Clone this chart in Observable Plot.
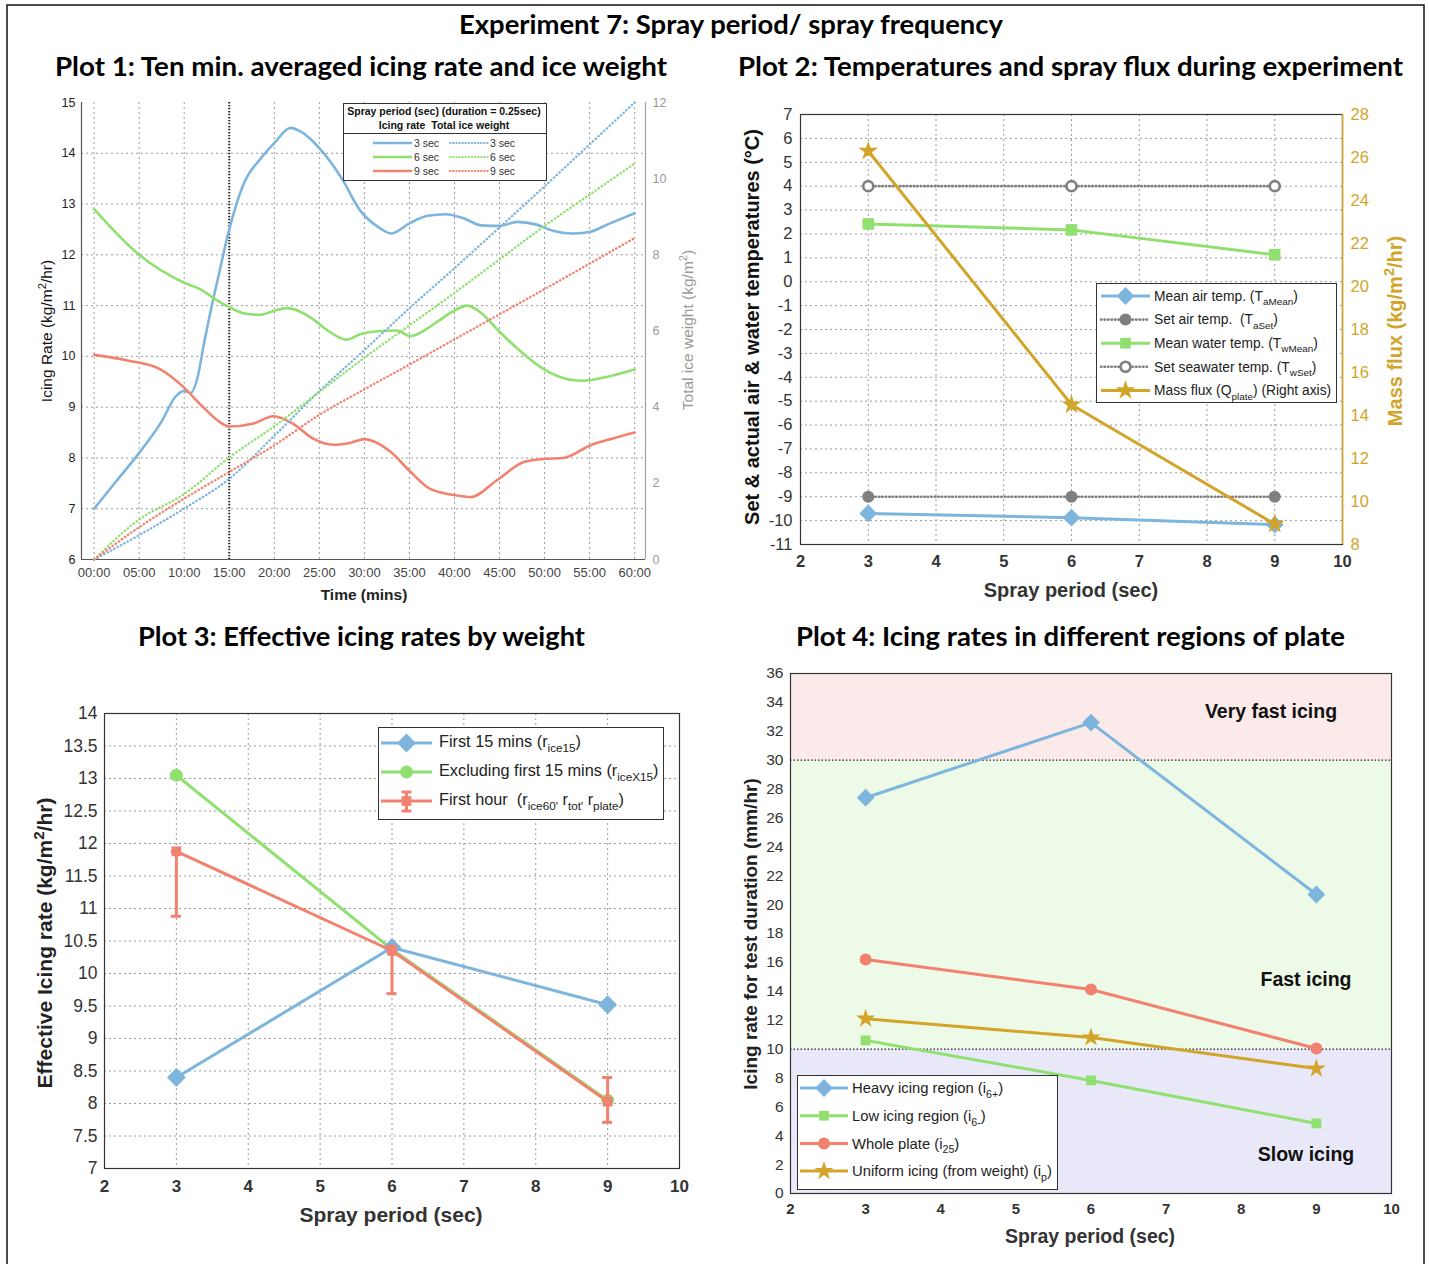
<!DOCTYPE html>
<html>
<head>
<meta charset="utf-8">
<script src="https://cdn.jsdelivr.net/npm/d3@7"></script>
<script src="https://cdn.jsdelivr.net/npm/@observablehq/plot@0.6"></script>
<style>
html,body{margin:0;padding:0;background:#fff;}
#root{position:relative;width:1429px;height:1264px;overflow:hidden;background:#fff;}
#root svg{position:absolute;left:0;top:0;}
</style>
</head>
<body>
<div id="root"></div>
<script>
// ================= DATA =================
// Plot 1: ten-minute averaged icing rate (left axis) and total ice weight (right axis)
const p1XTicks = [0,5,10,15,20,25,30,35,40,45,50,55,60];
const p1YTicks = [6,7,8,9,10,11,12,13,14,15];
const p1RTicks = [0,2,4,6,8,10,12];
const p1Marker = [15];
const rate3Time  = [0,2.5,5,7.5,9,10,10.7,11.5,12.2,13,13.7,15,16.6,18.5,20,21.8,23,25,27.5,29.5,31.5,33,35,37,39,41,43,45,47,49,51,53,55,57,60];
const rate3Value = [7.0,7.55,8.1,8.72,9.2,9.32,9.28,9.6,10.26,10.95,11.5,12.5,13.4,13.9,14.2,14.5,14.42,14.1,13.5,12.88,12.55,12.42,12.62,12.77,12.8,12.72,12.58,12.57,12.65,12.6,12.47,12.42,12.45,12.6,12.82];
const rate6Time  = [0,5,10,11.8,13.5,15,16.6,18.4,20,21.4,23,24,26,28,29.6,31.8,33.6,35.1,37,38.4,39.5,41.4,43,44.7,47,49.9,52.9,54.3,57,60];
const rate6Value = [12.9,12.0,11.45,11.32,11.12,10.97,10.85,10.82,10.9,10.95,10.87,10.77,10.5,10.33,10.44,10.5,10.51,10.4,10.55,10.72,10.85,11.0,10.85,10.54,10.15,9.75,9.54,9.52,9.6,9.74];
const rate9Time  = [0,3.7,7.3,9.9,12.1,14,15,17.7,19.9,22.1,24.3,26.6,28.5,30,31,32.9,35.1,37.3,40.3,41.8,44.7,47.7,49.9,52.1,55.1,57.5,60];
const rate9Value = [10.03,9.92,9.75,9.4,9.0,8.7,8.62,8.68,8.82,8.67,8.38,8.26,8.3,8.37,8.33,8.12,7.73,7.39,7.26,7.23,7.56,7.92,7.98,8.0,8.25,8.38,8.5];
const weightTime = [0,5,10,15,20,25,30,35,40,45,50,55,60];
const weight3 = [0,0.64,1.34,2.12,3.25,4.42,5.5,6.6,7.65,8.72,9.8,10.9,12.0];
const weight6 = [0,1.05,1.72,2.68,3.5,4.4,5.3,6.15,7.0,7.88,8.76,9.58,10.4];
const weight9 = [0,0.85,1.6,2.3,3.0,3.8,4.47,5.12,5.78,6.44,7.1,7.77,8.44];
const p1LegendLabels = ["3 sec","6 sec","9 sec"];

// Plot 2: temperatures and spray flux
const p2XTicks = [2,3,4,5,6,7,8,9,10];
const p2YTicks = [-11,-10,-9,-8,-7,-6,-5,-4,-3,-2,-1,0,1,2,3,4,5,6,7];
const p2RTicks = [8,10,12,14,16,18,20,22,24,26,28];
const p2Period = [3,6,9];
const p2AirMean = [-9.7,-9.88,-10.17];
const p2AirSet = [-9,-9,-9];
const p2WaterMean = [2.42,2.17,1.13];
const p2WaterSet = [4,4,4];
const p2MassFlux = [26.3,14.5,8.95];
const p2LegendLabels = ["Mean air temp. (T_{aMean})","Set air temp.  (T_{aSet})","Mean water temp. (T_{wMean})","Set seawater temp. (T_{wSet})","Mass flux (Q_{plate}) (Right axis)"];

// Plot 3: effective icing rates by weight
const p3XTicks = [2,3,4,5,6,7,8,9,10];
const p3YTicks = [7,7.5,8,8.5,9,9.5,10,10.5,11,11.5,12,12.5,13,13.5,14];
const p3Period = [3,6,9];
const p3First15 = [8.4,10.4,9.52];
const p3ExclFirst15 = [13.05,10.37,8.05];
const p3FirstHour = [11.88,10.35,8.03];
const p3ErrLow = [10.88,9.69,7.71];
const p3ErrHigh = [11.88,10.42,8.4];
const p3LegendLabels = ["First 15 mins (r_{ice15})","Excluding first 15 mins (r_{iceX15})","First hour  (r_{ice60'} r_{tot'} r_{plate})"];

// Plot 4: icing rates in different regions of plate
const p4XTicks = [2,3,4,5,6,7,8,9,10];
const p4YTicks = [0,2,4,6,8,10,12,14,16,18,20,22,24,26,28,30,32,34,36];
const p4Period = [3,6,9];
const p4Heavy = [27.4,32.6,20.7];
const p4Low = [10.6,7.83,4.85];
const p4Whole = [16.2,14.12,10.04];
const p4Uniform = [12.1,10.8,8.65];
const p4BandLow = [0,10,30];
const p4BandHigh = [10,30,36];
const p4Thresholds = [10,30];
const p4BandLabels = ["Slow icing","Fast icing","Very fast icing"];
const p4LegendLabels = ["Heavy icing region (i_{6+})","Low icing region (i_{6-})","Whole plate (i_{25})","Uniform icing (from weight) (i_{p})"];

// ================= STYLE =================
const W = 1429, H = 1264;
const BLUE = "#7db5dd", GREEN = "#90e070", RED = "#f2826f", GOLD = "#d2a42a", GREY = "#7f7f7f";
const FONT = "'Liberation Sans', Arial, Helvetica, sans-serif";
const root = document.getElementById("root");
function frame(x0,y0,x1,y1){return {width:W,height:H,marginLeft:x0,marginTop:y0,marginRight:W-x1,marginBottom:H-y1,
  style:{background:"transparent",fontFamily:FONT,overflow:"visible",maxWidth:"none"}};}
const gridStyle = {stroke:"#9a9a9a", strokeOpacity:1, strokeWidth:1, strokeDasharray:"2,3"};
const num = d=>String(d);
function add(p){root.appendChild(p);}
function rows(xs, ...series){return xs.map((x,i)=>{const o={x}; series.forEach((s,k)=>o["s"+k]=s[i]); return o;});}

// ================= PLOT 1 =================
const p1XDomain = [-1.4, 61.2], p1YDomain = [6,15], p1RDomain = [0,12];
const r3 = rows(rate3Time, rate3Value), r6 = rows(rate6Time, rate6Value), r9 = rows(rate9Time, rate9Value);
const w = rows(weightTime, weight3, weight6, weight9);
add(Plot.plot({
  ...frame(81,102,645,559),
  x:{domain:p1XDomain, axis:null}, y:{domain:p1YDomain, axis:null},
  marks:[
    Plot.gridX(p1XTicks, gridStyle),
    Plot.gridY(p1YTicks.filter(v=>v>p1YDomain[0] && v<p1YDomain[1]), gridStyle),
    Plot.ruleX(p1Marker, {stroke:"#222", strokeWidth:2, strokeDasharray:"1.2,1.8"}),
    Plot.ruleX([p1XDomain[0]], {stroke:"#555", strokeWidth:1.2}),
    Plot.ruleY([p1YDomain[0]], {stroke:"#555", strokeWidth:1.2}),
    Plot.axisX(p1XTicks, {tickSize:0, tickPadding:8, fontSize:13, color:"#444", label:null,
      tickFormat:d=>String(d).padStart(2,"0")+":00"}),
    Plot.axisY(p1YTicks, {tickSize:0, tickPadding:6, fontSize:12.5, color:"#222", label:null, tickFormat:num}),
    Plot.line(r3, {x:"x", y:"s0", stroke:BLUE, strokeWidth:2.6, curve:"monotone-x"}),
    Plot.line(r6, {x:"x", y:"s0", stroke:GREEN, strokeWidth:2.6, curve:"monotone-x"}),
    Plot.line(r9, {x:"x", y:"s0", stroke:RED, strokeWidth:2.6, curve:"monotone-x"})
  ]
}));
add(Plot.plot({
  ...frame(81,102,645,559),
  x:{domain:p1XDomain, axis:null}, y:{domain:p1RDomain, axis:null},
  marks:[
    Plot.ruleX([p1XDomain[1]], {stroke:"#a0a0a0", strokeWidth:1.2}),
    Plot.axisY(p1RTicks, {anchor:"right", tickSize:0, tickPadding:7, fontSize:12.5, color:"#999", label:null, tickFormat:num}),
    Plot.line(w, {x:"x", y:"s0", stroke:BLUE, strokeWidth:2.3, strokeDasharray:"0.5,3.3", strokeLinecap:"round", curve:"monotone-x"}),
    Plot.line(w, {x:"x", y:"s1", stroke:GREEN, strokeWidth:2.3, strokeDasharray:"0.5,3.3", strokeLinecap:"round", curve:"monotone-x"}),
    Plot.line(w, {x:"x", y:"s2", stroke:RED, strokeWidth:2.3, strokeDasharray:"0.5,3.3", strokeLinecap:"round", curve:"monotone-x"})
  ]
}));

// ================= PLOT 2 =================
const p2XDomain = [2,10], p2YDomain = [-11,7], p2RDomain = [8,28];
const p2 = rows(p2Period, p2AirMean, p2AirSet, p2WaterMean, p2WaterSet, p2MassFlux);
add(Plot.plot({
  ...frame(800,114,1342,544),
  x:{domain:p2XDomain, axis:null}, y:{domain:p2YDomain, axis:null},
  marks:[
    Plot.gridX(p2XTicks, gridStyle),
    Plot.gridY(p2YTicks, gridStyle),
    Plot.frame({stroke:"#333", strokeWidth:1.2}),
    Plot.axisX(p2XTicks, {tickSize:0, tickPadding:11, fontSize:16.5, fontWeight:"bold", color:"#333", label:null}),
    Plot.axisY(p2YTicks, {tickSize:0, tickPadding:8, fontSize:16.5, color:"#333", label:null, tickFormat:num}),
    Plot.line(p2, {x:"x", y:"s0", stroke:BLUE, strokeWidth:3}),
    Plot.dot(p2, {x:"x", y:"s0", symbol:"diamond2", r:8, fill:BLUE}),
    Plot.line(p2, {x:"x", y:"s1", stroke:GREY, strokeWidth:2.6, strokeDasharray:"0.5,3", strokeLinecap:"round"}),
    Plot.dot(p2, {x:"x", y:"s1", symbol:"circle", r:6, fill:GREY}),
    Plot.line(p2, {x:"x", y:"s2", stroke:GREEN, strokeWidth:3}),
    Plot.dot(p2, {x:"x", y:"s2", symbol:"square", r:6.5, fill:GREEN}),
    Plot.line(p2, {x:"x", y:"s3", stroke:GREY, strokeWidth:2.6, strokeDasharray:"0.5,3", strokeLinecap:"round"}),
    Plot.dot(p2, {x:"x", y:"s3", symbol:"circle", r:5, fill:"white", stroke:GREY, strokeWidth:2.6})
  ]
}));
add(Plot.plot({
  ...frame(800,114,1342,544),
  x:{domain:p2XDomain, axis:null}, y:{domain:p2RDomain, axis:null},
  marks:[
    Plot.ruleX([p2XDomain[1]], {stroke:GOLD, strokeWidth:1.5}),
    Plot.axisY(p2RTicks, {anchor:"right", tickSize:0, tickPadding:8, fontSize:16.5, color:GOLD, label:null, tickFormat:num}),
    Plot.line(p2, {x:"x", y:"s4", stroke:GOLD, strokeWidth:3}),
    Plot.dot(p2, {x:"x", y:"s4", symbol:"star", r:6.2, fill:GOLD})
  ]
}));

// ================= PLOT 3 =================
const p3XDomain = [2,10], p3YDomain = [7,14];
const p3 = rows(p3Period, p3First15, p3ExclFirst15, p3FirstHour, p3ErrLow, p3ErrHigh);
const capHalf = 0.07;
add(Plot.plot({
  ...frame(104,713,679,1168),
  x:{domain:p3XDomain, axis:null}, y:{domain:p3YDomain, axis:null},
  marks:[
    Plot.gridX(p3XTicks, gridStyle),
    Plot.gridY(p3YTicks, gridStyle),
    Plot.frame({stroke:"#333", strokeWidth:1.2}),
    Plot.axisX(p3XTicks, {tickSize:0, tickPadding:11, fontSize:17, fontWeight:"bold", color:"#333", label:null}),
    Plot.axisY(p3YTicks, {tickSize:0, tickPadding:7, fontSize:17.5, color:"#333", label:null, tickFormat:num}),
    Plot.line(p3, {x:"x", y:"s1", stroke:GREEN, strokeWidth:3}),
    Plot.dot(p3, {x:"x", y:"s1", symbol:"circle", r:6.5, fill:GREEN}),
    Plot.line(p3, {x:"x", y:"s0", stroke:BLUE, strokeWidth:3}),
    Plot.dot(p3, {x:"x", y:"s0", symbol:"diamond2", r:8.5, fill:BLUE}),
    Plot.line(p3, {x:"x", y:"s2", stroke:RED, strokeWidth:3}),
    Plot.ruleX(p3, {x:"x", y1:"s3", y2:"s4", stroke:RED, strokeWidth:3}),
    Plot.ruleY(p3, {y:"s3", x1:d=>d.x-capHalf, x2:d=>d.x+capHalf, stroke:RED, strokeWidth:3}),
    Plot.ruleY(p3, {y:"s4", x1:d=>d.x-capHalf, x2:d=>d.x+capHalf, stroke:RED, strokeWidth:3}),
    Plot.dot(p3, {x:"x", y:"s2", symbol:"square", r:5.5, fill:RED})
  ]
}));

// ================= PLOT 4 =================
const p4XDomain = [2,10], p4YDomain = [0,36];
const bandColors = ["#e8e8f8","#ecfae7","#fceaea"];
const bands = p4BandLow.map((lo,i)=>({lo, hi:p4BandHigh[i], c:bandColors[i]}));
const p4 = rows(p4Period, p4Heavy, p4Low, p4Whole, p4Uniform);
add(Plot.plot({
  ...frame(790,673,1391,1193),
  x:{domain:p4XDomain, axis:null}, y:{domain:p4YDomain, axis:null},
  marks:[
    bands.map(b=>Plot.rect([b], {x1:()=>p4XDomain[0], x2:()=>p4XDomain[1], y1:"lo", y2:"hi", fill:b.c})),
    Plot.ruleY(p4Thresholds, {stroke:"#222", strokeWidth:1.3, strokeDasharray:"1.5,2"}),
    Plot.frame({stroke:"#333", strokeWidth:1.2}),
    Plot.axisX(p4XTicks, {tickSize:0, tickPadding:10, fontSize:15, fontWeight:"bold", color:"#333", label:null}),
    Plot.axisY(p4YTicks, {tickSize:0, tickPadding:7, fontSize:15.5, color:"#333", label:null, tickFormat:num}),
    Plot.line(p4, {x:"x", y:"s0", stroke:BLUE, strokeWidth:3}),
    Plot.dot(p4, {x:"x", y:"s0", symbol:"diamond2", r:8, fill:BLUE}),
    Plot.line(p4, {x:"x", y:"s1", stroke:GREEN, strokeWidth:3}),
    Plot.dot(p4, {x:"x", y:"s1", symbol:"square", r:5.5, fill:GREEN}),
    Plot.line(p4, {x:"x", y:"s2", stroke:RED, strokeWidth:3}),
    Plot.dot(p4, {x:"x", y:"s2", symbol:"circle", r:6, fill:RED}),
    Plot.line(p4, {x:"x", y:"s3", stroke:GOLD, strokeWidth:3}),
    Plot.dot(p4, {x:"x", y:"s3", symbol:"star", r:6, fill:GOLD})
  ]
}));

// ================= ANNOTATIONS =================
const ann = d3.select(root).append("svg").attr("width",W).attr("height",H)
  .style("font-family",FONT).style("overflow","visible");
ann.append("rect").attr("x",7).attr("y",5).attr("width",1417).attr("height",1275)
  .attr("fill","none").attr("stroke","#111").attr("stroke-width",1.5);

function rich(sel, str, size){
  sel.style("white-space","pre");
  const parts = str.split(/(_\{[^}]*\}|\^\{[^}]*\})/).filter(s=>s.length);
  let shift = 0;
  for (const p of parts){
    let t, dy, fs;
    if (p.startsWith("_{")) { t=p.slice(2,-1); dy=size*0.32; fs=size*0.72; }
    else if (p.startsWith("^{")) { t=p.slice(2,-1); dy=-size*0.42; fs=size*0.72; }
    else { t=p; dy=0; fs=size; }
    const ts = sel.append("tspan").text(t).attr("font-size",fs);
    const d = dy-shift;
    if (d) ts.attr("dy",d);
    shift = dy;
  }
  return sel;
}
function label(x,y,str,{size=14,weight="normal",fill="#222",rotate=false,anchor="middle"}={}){
  const t = ann.append("text").attr("text-anchor",anchor).attr("font-weight",weight).attr("fill",fill)
    .attr("font-size",size).attr("dy","0.35em");
  if (rotate) t.attr("transform",`translate(${x},${y}) rotate(-90)`);
  else t.attr("x",x).attr("y",y);
  return rich(t,str,size);
}
function title(x,y,str,width){
  ann.append("text").attr("x",x).attr("y",y).attr("text-anchor","middle")
    .attr("font-family","Lato, 'Open Sans', sans-serif").attr("font-weight",700).attr("font-size",26)
    .attr("textLength",width).attr("lengthAdjust","spacingAndGlyphs").attr("fill","#000").text(str);
}
title(731,34,"Experiment 7: Spray period/ spray frequency",544);
title(361,76,"Plot 1: Ten min. averaged icing rate and ice weight",612);
title(1070.5,76,"Plot 2: Temperatures and spray flux during experiment",665);
title(361.5,646,"Plot 3: Effective icing rates by weight",447);
title(1070.5,646,"Plot 4: Icing rates in different regions of plate",549);

// axis labels
label(364,595,"Time (mins)",{size:15.5,weight:"bold",fill:"#222"});
label(47,331,"Icing Rate (kg/m^{2}/hr)",{size:15.5,fill:"#111",rotate:true});
label(688,330,"Total ice weight (kg/m^{2})",{size:15.5,fill:"#999",rotate:true});
label(1071,590,"Spray period (sec)",{size:20,weight:"bold",fill:"#333"});
label(752,327,"Set & actual air & water temperatures (°C)",{size:20,weight:"bold",fill:"#111",rotate:true});
label(1395,331,"Mass flux (kg/m^{2}/hr)",{size:20,weight:"bold",fill:GOLD,rotate:true});
label(391,1215,"Spray period (sec)",{size:21,weight:"bold",fill:"#333"});
label(45,943,"Effective Icing rate (kg/m^{2}/hr)",{size:21,weight:"bold",fill:"#222",rotate:true});
label(1090,1236,"Spray period (sec)",{size:19.5,weight:"bold",fill:"#333"});
label(750,934,"Icing rate for test duration (mm/hr)",{size:19,weight:"bold",fill:"#222",rotate:true});

// band labels (Plot 4)
label(1306,1154,p4BandLabels[0],{size:19.5,weight:"bold",fill:"#111"});
label(1306,979,p4BandLabels[1],{size:19.5,weight:"bold",fill:"#111"});
label(1271,711,p4BandLabels[2],{size:19.5,weight:"bold",fill:"#111"});

// legend helpers
function box(x,y,w,h){ann.append("rect").attr("x",x+0.5).attr("y",y+0.5).attr("width",w).attr("height",h)
  .attr("fill","#fff").attr("stroke","#333").attr("stroke-width",1);}
function swatch(x1,x2,y,{color,width=3,dash=null,symbol=null,r=5,fill=null,stroke=null,sw=0}){
  const l = ann.append("line").attr("x1",x1).attr("x2",x2).attr("y1",y).attr("y2",y)
    .attr("stroke",color).attr("stroke-width",width);
  if (dash) l.attr("stroke-dasharray",dash).attr("stroke-linecap","round");
  if (symbol) ann.append("path").attr("d",d3.symbol(symbol,Math.PI*r*r)())
    .attr("transform",`translate(${(x1+x2)/2},${y})`).attr("fill",fill ?? color)
    .attr("stroke",stroke ?? "none").attr("stroke-width",sw);
}

// Plot 1 legend
box(343,103,203,77);
label(444,111,"Spray period (sec) (duration = 0.25sec)",{size:10.5,weight:"bold",fill:"#111"});
label(444,125,"Icing rate  Total ice weight",{size:10.5,weight:"bold",fill:"#111"});
ann.append("line").attr("x1",343).attr("x2",546).attr("y1",133.5).attr("y2",133.5).attr("stroke","#333");
[BLUE,GREEN,RED].forEach((c,i)=>{
  const y = 143+i*14;
  swatch(373,412,y,{color:c,width:2.5});
  label(414,y,p1LegendLabels[i],{size:10.5,fill:"#333",anchor:"start"});
  swatch(450,488,y,{color:c,width:2,dash:"0.5,2.6"});
  label(490,y,p1LegendLabels[i],{size:10.5,fill:"#333",anchor:"start"});
});

// Plot 2 legend
box(1096,283,240,119);
const p2Sw = [
  {color:BLUE,symbol:d3.symbolDiamond2,r:8},
  {color:GREY,width:2.6,dash:"0.5,3",symbol:d3.symbolCircle,r:6},
  {color:GREEN,symbol:d3.symbolSquare,r:6},
  {color:GREY,width:2.6,dash:"0.5,3",symbol:d3.symbolCircle,r:5,fill:"#fff",stroke:GREY,sw:2.6},
  {color:GOLD,symbol:d3.symbolStar,r:6.2}
];
p2LegendLabels.forEach((s,i)=>{
  const y = 296+i*23.6;
  swatch(1101,1150,y,p2Sw[i]);
  label(1154,y,s,{size:13.8,fill:"#222",anchor:"start"});
});

// Plot 3 legend
box(378,727,285,92);
swatch(381,432,743,{color:BLUE,symbol:d3.symbolDiamond2,r:8.5});
swatch(381,432,772,{color:GREEN,symbol:d3.symbolCircle,r:6.5});
swatch(381,432,801,{color:RED});
ann.append("line").attr("x1",406.5).attr("x2",406.5).attr("y1",792).attr("y2",811).attr("stroke",RED).attr("stroke-width",3);
ann.append("line").attr("x1",401.5).attr("x2",411.5).attr("y1",792).attr("y2",792).attr("stroke",RED).attr("stroke-width",3);
ann.append("line").attr("x1",401.5).attr("x2",411.5).attr("y1",811).attr("y2",811).attr("stroke",RED).attr("stroke-width",3);
ann.append("path").attr("d",d3.symbol(d3.symbolSquare,Math.PI*5.5*5.5)()).attr("transform","translate(406.5,801)").attr("fill",RED);
p3LegendLabels.forEach((s,i)=>label(439,741+i*29,s,{size:16.3,fill:"#222",anchor:"start"}));

// Plot 4 legend
box(797,1075,260,114);
const p4Sw = [
  {color:BLUE,symbol:d3.symbolDiamond2,r:8},
  {color:GREEN,symbol:d3.symbolSquare,r:5.5},
  {color:RED,symbol:d3.symbolCircle,r:6},
  {color:GOLD,symbol:d3.symbolStar,r:6}
];
p4LegendLabels.forEach((s,i)=>{
  const y = 1088+i*27.7;
  swatch(800,848,y,p4Sw[i]);
  label(852,y,s,{size:14.8,fill:"#222",anchor:"start"});
});
</script>
</body>
</html>
